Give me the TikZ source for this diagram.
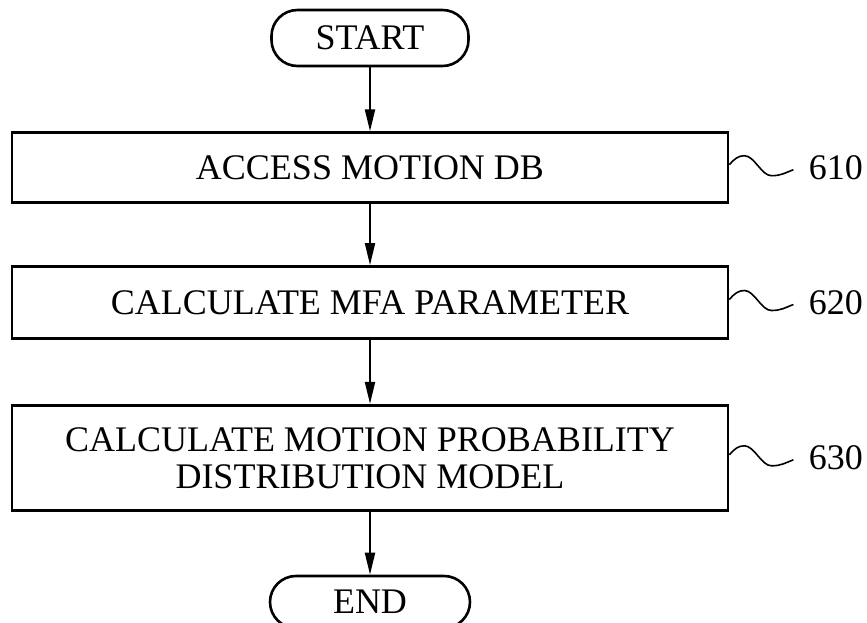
\documentclass[tikz,border=0pt]{standalone}
\usepackage{fontspec}
\setmainfont{Liberation Serif}
\usetikzlibrary{positioning,arrows.meta,shapes}
\tikzstyle{termbox}=[rectangle, rounded corners=13pt, draw=black, line width=1.3pt, minimum width=98.5pt,
minimum height=28pt, inner sep=0pt, text centered, font=\fontsize{18}{18.5}\selectfont]
\tikzstyle{procbox}=[rectangle, draw=black, line width=1.4pt, minimum width=358pt, minimum height=35pt,
inner sep=2pt, align=center, font=\fontsize{18}{18.5}\selectfont]
\tikzstyle{numlabel}=[inner sep=0pt, font=\fontsize{18}{18.5}\selectfont]
\tikzstyle{line}=[-{Triangle[length=11pt,width=5pt]}, line width=1pt]
\tikzstyle{sline}=[-, line width=0.8pt]
\newcommand\stepref[2]{
             \node (#1n) [numlabel, right=39.5pt of #1] {#2};
             \draw[sline] ([yshift=1.5pt]#1.east) .. controls +(2.5pt,3pt) and +(-3pt,0pt) .. ++(7.5pt,4.5pt)
                  .. controls +(5pt,0pt) and +(-5pt,0pt) .. ++(13.5pt,-10pt)
                  .. controls +(5pt,0pt) and +(-4pt,-1.5pt) .. ++(11pt,3pt);
        }

\begin{document}
\begin{tikzpicture}[node distance=0mm]

    \useasboundingbox (0pt,0pt) rectangle (433.5pt,-311pt);

    \node (start) [termbox] at (185pt,-19pt) {START};
    \node (b610) [procbox, below=32pt of start] {ACCESS MOTION DB};
    \node (b620) [procbox, below=30.5pt of b610, minimum height=36pt] {CALCULATE MFA PARAMETER};
    \node (b630) [procbox, below=32pt of b620, minimum height=52.5pt]
          {CALCULATE MOTION PROBABILITY\\DISTRIBUTION MODEL};
    \node (stop) [termbox, below=31.5pt of b630, minimum width=100pt, minimum height=26pt] {END};

%reference numbers
    \stepref{b610}{610}
    \stepref{b620}{620}
    \stepref{b630}{630}

   \draw[line] (start.south) -- (b610.north);
   \draw[line] (b610.south) -- (b620.north);
   \draw[line] (b620.south) -- (b630.north);
   \draw[line] (b630.south) -- (stop.north);

\end{tikzpicture}
\end{document}
